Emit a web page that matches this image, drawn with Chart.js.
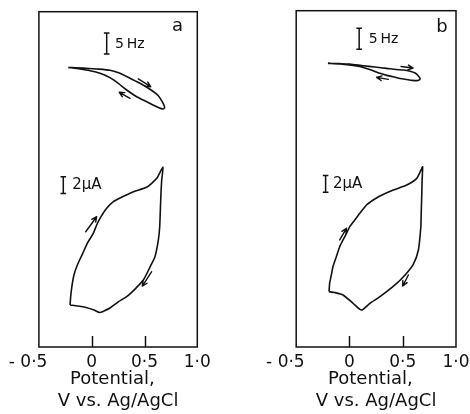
<!DOCTYPE html>
<html>
<head>
<meta charset="utf-8">
<script src="https://cdn.jsdelivr.net/npm/chart.js@4.4.1/dist/chart.umd.min.js"></script>
<style>
  html, body { margin: 0; padding: 0; background: #fff; }
  #wrap { position: relative; width: 470px; height: 414px; overflow: hidden; }
  canvas { position: absolute; top: 0; }
  #ca { left: 0; }
  #cb { left: 240px; }
</style>
</head>
<body>
<div id="wrap">
  <canvas id="ca" width="240" height="414"></canvas>
  <canvas id="cb" width="240" height="414"></canvas>
</div>
<script>
// Potential axis (V vs. Ag/AgCl)
const POTENTIAL_TICKS = [-0.5, 0, 0.5, 1.0];
const TICK_LABELS = ['- 0·5    ', '0', '0·5', '1·0'];
const AXIS_TITLE = ['Potential,  ', 'V vs. Ag/AgCl'];

// Scale-bar sizes
const BAR_HZ = 5;   // Hz
const BAR_UA = 2;   // µA

// Panel a: frequency shift (Hz), anodic sweep then cathodic return
const freqA_E  = [-0.222, -0.080, 0.047, 0.173, 0.268, 0.363, 0.457, 0.552, 0.631, 0.668, 0.686, 0.690,
                  0.676, 0.616, 0.521, 0.426, 0.331, 0.252, 0.173, 0.079, -0.016, -0.111, -0.222];
const freqA_df = [-0.30, -0.43, -0.67, -0.98, -1.69, -2.89, -4.08, -5.51, -7.04, -8.47, -9.38, -9.90,
                  -10.21, -9.66, -8.47, -7.28, -5.68, -4.08, -2.74, -1.69, -1.07, -0.67, -0.30];

// Panel a: current (µA)
const curA_E = [-0.205, -0.199, -0.189, -0.168, -0.136, -0.085, -0.042, 0.015, 0.047, 0.079, 0.142, 0.205,
                0.268, 0.391, 0.524, 0.618, 0.675,
                0.663, 0.656, 0.650, 0.644, 0.631, 0.599, 0.552, 0.489, 0.410, 0.331, 0.249, 0.173,
                0.116, 0.074, 0.022, -0.054, -0.130, -0.205];
const curA_I = [-7.99, -7.00, -5.88, -4.41, -3.22, -1.83, -0.63, 0.56, 1.55, 2.35, 3.54, 4.33,
                4.77, 5.49, 6.08, 7.16, 8.47,
                6.92, 5.33, 3.34, 1.35, -0.24, -2.23, -3.46, -5.01, -6.09, -7.00, -7.64, -8.35,
                -8.71, -8.89, -8.59, -8.29, -8.11, -7.99];

// Panel b: frequency shift (Hz)
const freqB_E  = [-0.202, -0.092, 0.003, 0.128, 0.239, 0.349, 0.437, 0.506, 0.569, 0.616, 0.647, 0.663,
                  0.644, 0.588, 0.538, 0.475, 0.411, 0.349, 0.286, 0.223, 0.160, 0.097, 0.034, -0.092, -0.202];
const freqB_df = [0.48, 0.40, 0.31, -0.10, -0.40, -0.71, -1.00, -1.12, -1.40, -1.83, -2.55, -3.26,
                  -3.62, -3.57, -3.38, -3.14, -2.71, -2.38, -1.90, -1.28, -0.76, -0.29, 0.00, 0.31, 0.48];

// Panel b: current (µA)
const curB_E = [-0.192, -0.186, -0.170, -0.155, -0.123, -0.092, -0.060, -0.028, 0.003, 0.050, 0.097, 0.160,
                0.223, 0.286, 0.411, 0.538, 0.632, 0.679, 0.687,
                0.682, 0.679, 0.673, 0.670, 0.647, 0.600, 0.522, 0.427, 0.286, 0.192, 0.113,
                0.034, -0.060, -0.139, -0.192];
const curB_I = [-6.42, -5.42, -4.43, -3.45, -2.26, -1.07, -0.27, 0.52, 1.31, 2.10, 2.90, 3.89,
                4.48, 4.96, 5.67, 6.27, 7.06, 8.25, 8.44,
                6.86, 5.28, 2.70, 1.31, -1.46, -3.13, -4.43, -5.62, -7.02, -7.80, -8.60,
                -7.80, -6.81, -6.52, -6.42];

const INK = '#111';
const FONT = 'DejaVu Sans';

const toPoints = (xs, ys) => xs.map((x, i) => ({ x, y: ys[i] }));

function loopDataset(xs, ys, axis) {
  return {
    type: 'line', data: toPoints(xs, ys), yAxisID: axis, showLine: true,
    borderColor: INK, borderWidth: 1.6, pointRadius: 0, tension: 0.2, fill: false
  };
}

// vertical "I" bar with short end caps
function barDataset(x, y0, size, axis) {
  return {
    type: 'line', data: [{ x, y: y0 }, { x, y: y0 + size }], yAxisID: axis, showLine: true,
    borderColor: INK, borderWidth: 1.5, pointStyle: 'line', pointRadius: 2.8,
    pointBorderColor: INK, pointBorderWidth: 1.5, tension: 0
  };
}

// frame around the plot area plus inward tick marks
const framePlugin = {
  id: 'frame',
  afterDatasetsDraw(chart) {
    const { ctx, chartArea: a, scales: { x } } = chart;
    ctx.save();
    ctx.strokeStyle = INK;
    ctx.lineWidth = 1.5;
    ctx.strokeRect(a.left, a.top, a.right - a.left, a.bottom - a.top);
    x.ticks.forEach(t => {
      if (t.value <= x.min || t.value >= x.max) return;
      const px = Math.round(x.getPixelForValue(t.value)) + 0.5;
      ctx.beginPath();
      ctx.moveTo(px, a.bottom);
      ctx.lineTo(px, a.bottom - 11);
      ctx.stroke();
    });
    ctx.restore();
  }
};

// sweep-direction arrows and text notes, placed in data coordinates
const notesPlugin = {
  id: 'notes',
  afterDatasetsDraw(chart, args, opts) {
    const { ctx, scales } = chart;
    ctx.save();
    ctx.strokeStyle = INK;
    ctx.fillStyle = INK;
    ctx.lineWidth = 1.4;
    ctx.lineCap = 'round';
    (opts.arrows || []).forEach(ar => {
      const y = scales[ar.axis];
      const x1 = scales.x.getPixelForValue(ar.from[0]), y1 = y.getPixelForValue(ar.from[1]);
      const x2 = scales.x.getPixelForValue(ar.to[0]),   y2 = y.getPixelForValue(ar.to[1]);
      const ang = Math.atan2(y2 - y1, x2 - x1);
      const h = 5.5, spread = 0.45;
      ctx.beginPath();
      ctx.moveTo(x1, y1); ctx.lineTo(x2, y2);
      ctx.moveTo(x2, y2); ctx.lineTo(x2 - h * Math.cos(ang - spread), y2 - h * Math.sin(ang - spread));
      ctx.moveTo(x2, y2); ctx.lineTo(x2 - h * Math.cos(ang + spread), y2 - h * Math.sin(ang + spread));
      ctx.stroke();
    });
    (opts.texts || []).forEach(t => {
      const y = scales[t.axis];
      ctx.font = `${t.size}px "${FONT}"`;
      ctx.textAlign = t.align || 'left';
      ctx.textBaseline = 'middle';
      ctx.fillText(t.text, scales.x.getPixelForValue(t.at[0]), y.getPixelForValue(t.at[1]));
    });
    ctx.restore();
  }
};

function buildPanel(id, p) {
  return new Chart(document.getElementById(id), {
    type: 'scatter',
    data: {
      datasets: [
        loopDataset(p.freqE, p.freqDf, 'yF'),
        loopDataset(p.curE, p.curI, 'yI'),
        barDataset(p.hzBarAt[0], p.hzBarAt[1], BAR_HZ, 'yF'),
        barDataset(p.uaBarAt[0], p.uaBarAt[1], BAR_UA, 'yI')
      ]
    },
    options: {
      responsive: false,
      animation: false,
      devicePixelRatio: 1,
      layout: { padding: p.padding },
      plugins: {
        legend: { display: false },
        tooltip: { enabled: false },
        notes: { arrows: p.arrows, texts: p.texts }
      },
      scales: {
        x: {
          type: 'linear', min: -0.5, max: 1.0,
          afterBuildTicks: s => { s.ticks = POTENTIAL_TICKS.map(v => ({ value: v })); },
          afterFit: s => { s.height = 67; },
          ticks: {
            callback: (v, i) => TICK_LABELS[i],
            autoSkip: false, maxRotation: 0, minRotation: 0, padding: 5,
            color: INK, font: { family: FONT, size: 17 }
          },
          grid: { display: false, drawTicks: false },
          border: { display: false },
          title: {
            display: true, text: AXIS_TITLE, color: INK,
            font: { family: FONT, size: 18, lineHeight: 1.22 },
            padding: { top: 0, bottom: 2 }
          }
        },
        yI: { type: 'linear', display: false, min: -13, max: 27 },
        yF: { type: 'linear', display: false, min: -67, max: 13 }
      }
    },
    plugins: [framePlugin, notesPlugin]
  });
}

buildPanel('ca', {
  freqE: freqA_E, freqDf: freqA_df, curE: curA_E, curI: curA_I,
  padding: { left: 38.9, right: 42.7, top: 11.7, bottom: 0 },
  hzBarAt: [0.142, 2.9], uaBarAt: [-0.269, 5.3],
  arrows: [
    { axis: 'yF', from: [0.441, -3.05], to: [0.559, -4.89] },
    { axis: 'yF', from: [0.363, -7.66], to: [0.261, -6.23] },
    { axis: 'yI', from: [-0.057, 0.75], to: [0.047, 2.54] },
    { axis: 'yI', from: [0.568, -4.02], to: [0.479, -5.73] }
  ],
  texts: [
    { axis: 'yF', at: [0.221, 5.3], text: '5\u2009Hz', size: 14 },
    { axis: 'yI', at: [-0.184, 6.3], text: '2µA', size: 15 },
    { axis: 'yF', at: [0.812, 9.4], text: 'a', size: 18, align: 'center' }
  ]
});

buildPanel('cb', {
  freqE: freqB_E, freqDf: freqB_df, curE: curB_E, curI: curB_I,
  padding: { left: 56.2, right: 24, top: 10.7, bottom: 0 },
  hzBarAt: [0.091, 3.8], uaBarAt: [-0.224, 5.4],
  arrows: [
    { axis: 'yF', from: [0.484, -0.29], to: [0.597, -0.64] },
    { axis: 'yF', from: [0.364, -3.33], to: [0.255, -2.85] },
    { axis: 'yI', from: [-0.092, -0.27], to: [-0.028, 1.12] },
    { axis: 'yI', from: [0.553, -4.43], to: [0.500, -5.74] }
  ],
  texts: [
    { axis: 'yF', at: [0.182, 6.3], text: '5\u2009Hz', size: 14 },
    { axis: 'yI', at: [-0.155, 6.4], text: '2µA', size: 15 },
    { axis: 'yF', at: [0.868, 9.0], text: 'b', size: 18, align: 'center' }
  ]
});
</script>
</body>
</html>
